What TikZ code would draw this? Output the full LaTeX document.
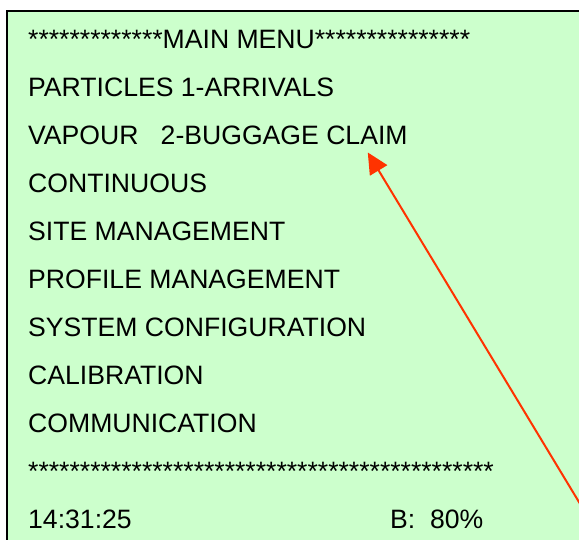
\documentclass[tikz,border=0pt]{standalone}
\usepackage{fontspec}
\setmainfont{Liberation Sans}
\usetikzlibrary{arrows.meta}
\definecolor{lcdgreen}{RGB}{204,255,204}
\definecolor{ptrred}{RGB}{255,51,0}
\newcommand{\rowH}{48}
\newcommand{\txtX}{28}
\tikzset{
  lcdbox/.style ={draw=black,line width=2pt,fill=lcdgreen},
  lcdtxt/.style ={anchor=base west,inner sep=0pt,font=\fontsize{26.6}{31}\selectfont},
  ptrarr/.style ={ptrred,line width=2pt,-{Triangle[length=21pt,width=20pt]}},
}
% one line of the display, baseline on row #2
\newcommand{\menurow}[3]{\node[lcdtxt] (#1) at (\txtX,#2*\rowH) {#3};}

\begin{document}
\begin{tikzpicture}[x=1pt,y=-1pt]
  \useasboundingbox (0,0) rectangle (579,539);
  \draw[lcdbox] (7,11) rectangle (600,560);
  \menurow{title}{1}{*************MAIN MENU***************}
  \menurow{particles}{2}{PARTICLES 1-ARRIVALS}
  \menurow{vapour}{3}{VAPOUR\ \ \ 2-BUGGAGE CLAIM}
  \menurow{continuous}{4}{CONTINUOUS}
  \menurow{site}{5}{SITE MANAGEMENT}
  \menurow{profile}{6}{PROFILE MANAGEMENT}
  \menurow{sysconf}{7}{SYSTEM CONFIGURATION}
  \menurow{calib}{8}{CALIBRATION}
  \menurow{comm}{9}{COMMUNICATION}
  \menurow{rule}{10}{*********************************************}
  \menurow{clock}{11}{14:31:25}
  \node[lcdtxt] (battery) at (390,11*\rowH) {B:\ \ 80\%};
  % pointer onto the baggage entry
  \coordinate (ptrfoot) at (585,512);
  \draw[ptrarr] (ptrfoot) -- ([xshift=-40pt,yshift=-8pt]vapour.south east);
\end{tikzpicture}
\end{document}
